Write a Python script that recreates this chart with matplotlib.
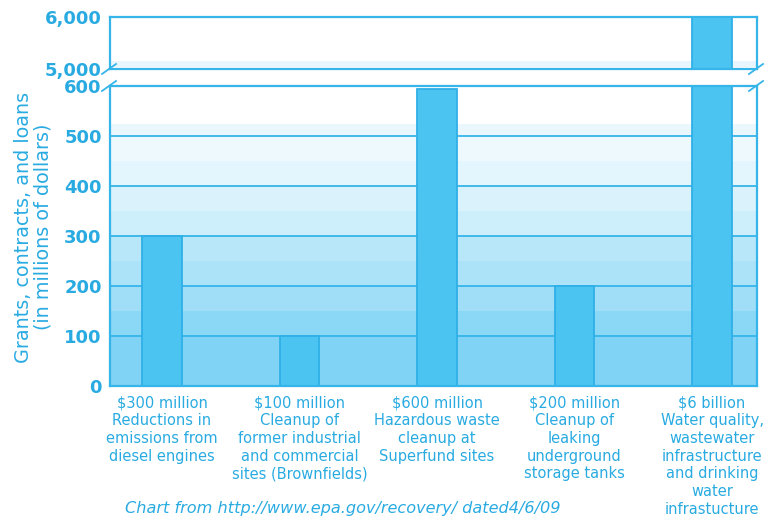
import matplotlib
matplotlib.use("Agg")
import matplotlib.pyplot as plt
import numpy as np

# ---- data ----
categories = [
    "$300 million\nReductions in\nemissions from\ndiesel engines",
    "$100 million\nCleanup of\nformer industrial\nand commercial\nsites (Brownfields)",
    "$600 million\nHazardous waste\ncleanup at\nSuperfund sites",
    "$200 million\nCleanup of\nleaking\nunderground\nstorage tanks",
    "$6 billion\nWater quality,\nwastewater\ninfrastructure\nand drinking\nwater\ninfrastucture",
]
values = [300, 100, 595, 200, 6000]
lower_ticks = [0, 100, 200, 300, 400, 500, 600]
upper_ticks = [5000, 6000]
upper_tick_labels = ["5,000", "6,000"]
ylabel = "Grants, contracts, and loans\n(in millions of dollars)"
source = "Chart from http://www.epa.gov/recovery/ dated4/6/09"

# ---- style ----
TXT = "#29abe2"
LINE = "#35b5ea"
BAR = "#4cc4f2"
BAR_EDGE = "#2fb0e6"
band_edges = [0, 100, 150, 200, 250, 300, 350, 400, 450, 500, 525]
band_colors = ["#80d3f5", "#8ad7f6", "#a0def8", "#ade3f9", "#b9e7fa",
               "#cdeefb", "#d9f2fc", "#e3f5fd", "#eef9fe", "#eaf7fd"]

W, H = 768, 518
fig = plt.figure(figsize=(W / 100, H / 100), dpi=100)
left, right = 110 / W, 757 / W
ax_lo = fig.add_axes([left, 1 - 386 / H, right - left, (386 - 86) / H])
ax_hi = fig.add_axes([left, 1 - 69 / H, right - left, (69 - 17) / H])

x = np.arange(len(values))
xlim = (-0.378, 4.327)
bw = 0.29

for ax in (ax_lo, ax_hi):
    ax.set_xlim(*xlim)
    for s in ax.spines.values():
        s.set_color(LINE)
        s.set_linewidth(1.6)
    ax.tick_params(axis="both", length=0, colors=TXT, labelsize=13, pad=6)
    ax.set_xticks([])

# background bands lower
for i, c in enumerate(band_colors):
    ax_lo.axhspan(band_edges[i], band_edges[i + 1], color=c, lw=0, zorder=0)
ax_hi.axhspan(5030, 5160, color="#eaf6fd", lw=0, zorder=0)

# gridlines
for t in lower_ticks[1:-1]:
    ax_lo.axhline(t, color=LINE, lw=1.3, zorder=1)

ax_lo.bar(x, values, width=bw, color=BAR, edgecolor=BAR_EDGE, lw=1.3, zorder=2)
ax_hi.bar(x, values, width=bw, color=BAR, edgecolor=BAR_EDGE, lw=1.3, zorder=2)

ax_lo.set_ylim(0, 600)
ax_hi.set_ylim(5000, 6000)
ax_lo.set_yticks(lower_ticks)
ax_hi.set_yticks(upper_ticks)
ax_hi.set_yticklabels(upper_tick_labels)
for ax in (ax_lo, ax_hi):
    for lab in ax.get_yticklabels():
        lab.set_fontweight("bold")
        lab.set_color(TXT)

# category labels
for xi, lab in zip(x, categories):
    ax_lo.annotate(lab, xy=(xi, 0), xycoords="data", xytext=(0, -7),
                   textcoords="offset points", ha="center", va="top",
                   fontsize=10.5, color=TXT, linespacing=1.22,
                   fontweight="medium", annotation_clip=False)

# y label
fig.text(33 / W, 1 - 227 / H, ylabel, rotation=90, ha="center", va="center",
         fontsize=13.8, color=TXT, linespacing=1.05)

# break marks
for xf in (left, right):
    for yy in (1 - 69 / H, 1 - 86 / H):
        fig.add_artist(plt.Line2D([xf - 8 / W, xf + 6 / W], [yy - 5 / H, yy + 5 / H],
                                  color=LINE, lw=1.3, transform=fig.transFigure))

# source
fig.text(125 / W, 1 - 501 / H, source, ha="left", va="top", fontsize=11.6,
         style="italic", color=TXT)

fig.savefig("out.png", dpi=100)
